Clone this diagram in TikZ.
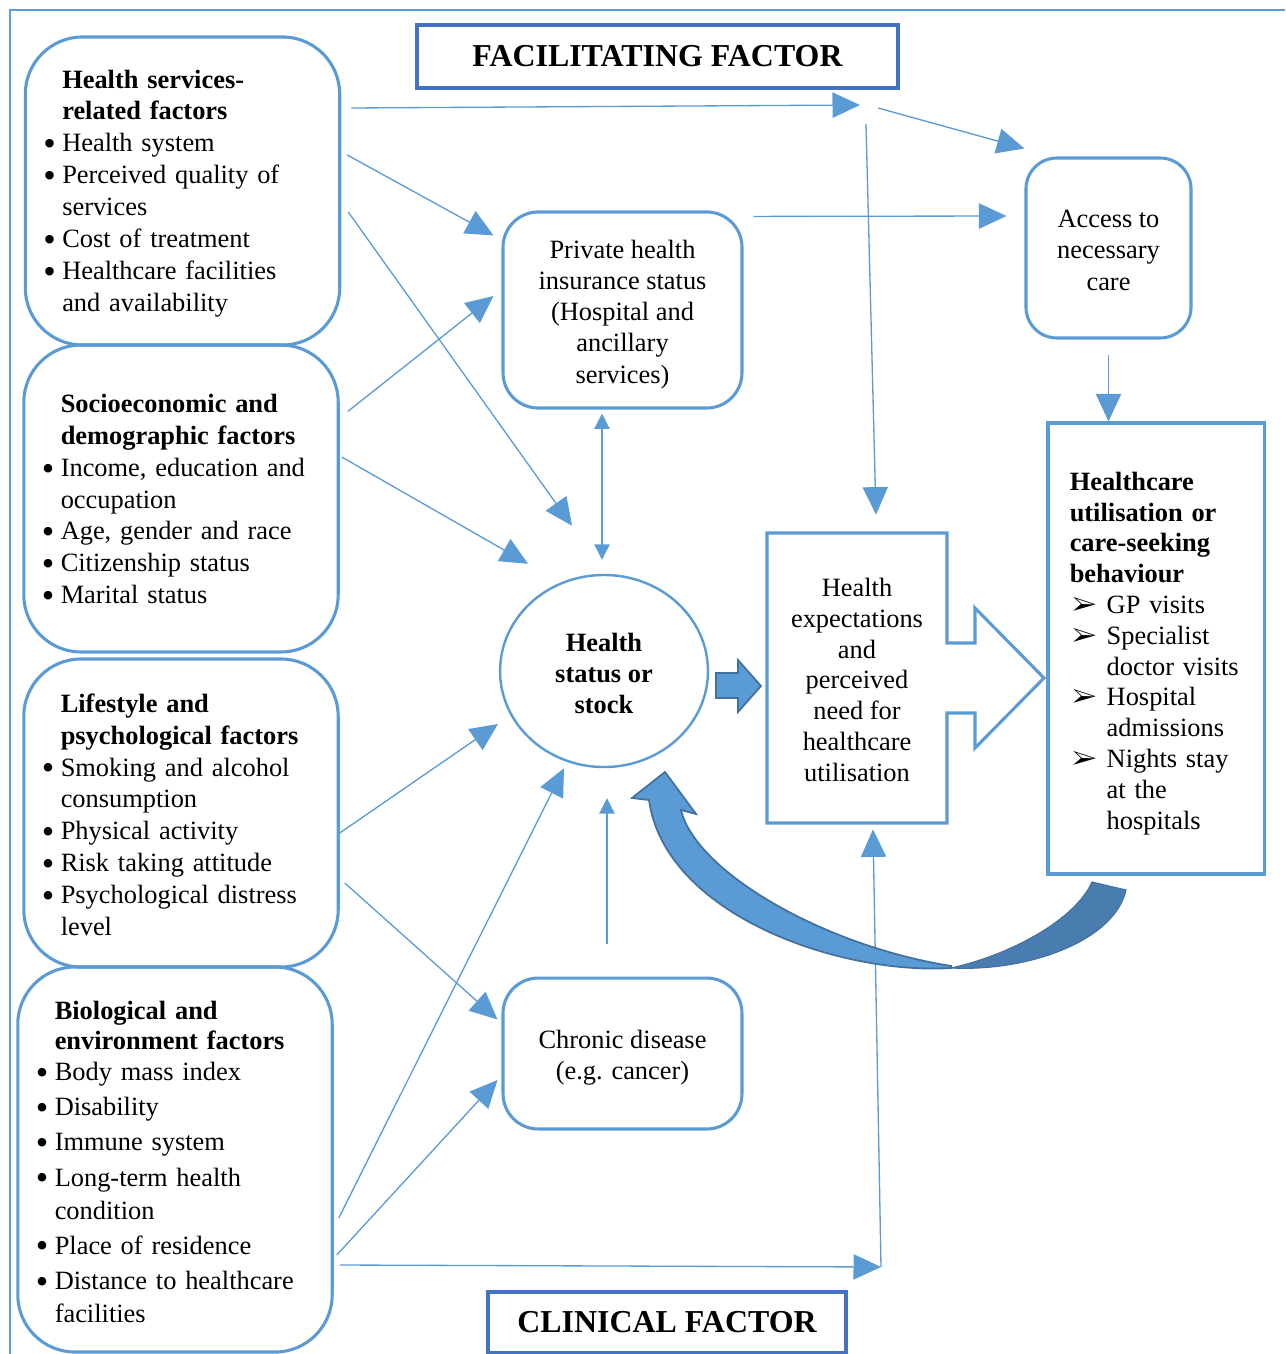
\documentclass[tikz,border=0pt]{standalone}
\usepackage{fontspec}
\setmainfont{Liberation Serif}
\usepackage{graphicx}
\usepackage{pifont}
\usetikzlibrary{arrows.meta,shapes.geometric,calc}

\definecolor{lineblue}{HTML}{5B9BD5}
\definecolor{boxblue}{HTML}{4472C4}
\definecolor{edgeblue}{HTML}{41719C}
\definecolor{bandblue}{HTML}{4A7DAF}

\newcommand{\bul}{\makebox[8.6pt][l]{\raisebox{-1.7pt}{\scalebox{1.35}{\textbullet}}}}
\newcommand{\ind}{\makebox[8.6pt][l]{}}
\newcommand{\harr}{\makebox[16.8pt][l]{\hspace{1.2pt}\ding{226}}}
\newcommand{\hind}{\makebox[16.8pt][l]{}}
\newcommand{\tstrut}[1]{\rule{0pt}{#1}}

\begin{document}
\begin{tikzpicture}[x=0.4545pt, y=-0.4545pt,
	every node/.style={font=\fontsize{12}{14.2}\selectfont},
	leftbox/.style={draw=lineblue, line width=1.4pt, rounded corners=26pt, text width=126.5pt, inner xsep=8.2pt, inner ysep=0pt, minimum height=#1, align=left},
	roundbox/.style={draw=lineblue, line width=1.4pt, rounded corners=16pt, align=center, inner sep=2pt},
	factor/.style={draw=boxblue, line width=1.4pt, font=\fontsize{14.5}{17}\selectfont\bfseries, inner sep=0pt},
	conn/.style={lineblue, line width=0.6pt, -{Triangle[length=12.5pt,width=11.5pt]}},
	conns/.style={lineblue, line width=0.6pt, -{Triangle[length=7pt,width=7pt]}},
	conn2/.style={lineblue, line width=0.6pt, {Triangle[length=7pt,width=7pt]}-{Triangle[length=7pt,width=7pt]}}]
	\useasboundingbox (0,0) rectangle (1285,1354);
	
	% Marco
	\draw[lineblue, line width=1.3pt] (10,1354) -- (10,10) -- (1285,10);
	
	% Factores
	\node[factor, minimum width=218.6pt, minimum height=28.6pt] (fac) at (657.5,56.5) {FACILITATING FACTOR};
	\node[factor, minimum width=162.7pt, minimum height=27.3pt] (clin) at (667,1322) {CLINICAL FACTOR};
	
	% Cajas de la izquierda
	\node[leftbox=140pt, font=\fontsize{12}{14.5}\selectfont] (hs) at (182.5,191) {\tstrut{10.5pt}\ind\textbf{Health services-}\\ \ind\textbf{related factors}\\ \bul Health system\\ \bul Perceived quality of\\ \ind services\\ \bul Cost of treatment\\ \bul Healthcare facilities\\ \ind and availability};
	\node[leftbox=139.5pt, font=\fontsize{12}{14.45}\selectfont] (se) at (181,498.5) {\tstrut{10.5pt}\ind\textbf{Socioeconomic and}\\ \ind\textbf{demographic factors}\\ \bul Income, education and\\ \ind occupation\\ \bul Age, gender and race\\ \bul Citizenship status\\ \bul Marital status};
	\node[leftbox=140pt, font=\fontsize{12}{14.45}\selectfont] (ls) at (181,813) {\tstrut{10pt}\ind\textbf{Lifestyle and}\\ \ind\textbf{psychological factors}\\ \bul Smoking and alcohol\\ \ind consumption\\ \bul Physical activity\\ \bul Risk taking attitude\\ \bul Psychological distress\\ \ind level};
	\node[leftbox=175pt, font=\fontsize{12}{16}\selectfont] (bio) at (175,1159.5) {\tstrut{10.5pt}\ind\textbf{Biological and}\\[-2.4pt] \ind\textbf{environment factors}\\[-1.9pt] \bul Body mass index\\ \bul Disability\\ \bul Immune system\\ \bul Long-term health\\[-1pt] \ind condition\\ \bul Place of residence\\ \bul Distance to healthcare\\[-1pt] \ind facilities};
	
	% Cajas del centro
	\node[roundbox, minimum width=108.6pt, minimum height=89.1pt] (phi) at (622.5,310) {\tstrut{12.2pt}Private health\\insurance status\\(Hospital and\\ancillary\\services)};
	\node[roundbox, minimum width=108.6pt, minimum height=68.6pt] (chr) at (622.5,1053.5) {\tstrut{11.8pt}Chronic disease\\(e.g. cancer)};
	\node[draw=lineblue, line width=1.1pt, ellipse, minimum width=94.5pt, minimum height=87.3pt, inner sep=0pt, align=center, font=\fontsize{12}{14.2}\selectfont\bfseries] (hst) at (604,671) {\tstrut{10.5pt}Health\\status or\\stock};
	\node[minimum width=81.8pt, minimum height=131.8pt, align=center, font=\fontsize{12}{14}\selectfont] (hexp) at (857,678) {\tstrut{10pt}Health\\expectations\\and\\perceived\\need for\\healthcare\\utilisation};
	\draw[lineblue, line width=1.4pt] (767,533) -- (947,533) -- (947,643) -- (975,643) -- (975,608) -- (1044,678) -- (975,748) -- (975,713) -- (947,713) -- (947,823) -- (767,823) -- cycle;
	
	% Cajas de la derecha
	\node[roundbox, rounded corners=14pt, minimum width=75pt, minimum height=81.8pt] (acc) at (1108.5,248) {\tstrut{10pt}Access to\\necessary\\care};
	\node[draw=lineblue, line width=1.4pt, text width=78.4pt, inner xsep=9.9pt, minimum height=205pt, align=left, font=\fontsize{12}{14}\selectfont] (hcu) at (1156,648.5) {\tstrut{12.8pt}\textbf{Healthcare}\\ \textbf{utilisation or}\\ \textbf{care-seeking}\\ \textbf{behaviour}\\ \harr GP visits\\ \harr Specialist\\ \hind doctor visits\\ \harr Hospital\\ \hind admissions\\ \harr Nights stay\\ \hind at the\\ \hind hospitals};
	
	% Flechas
	\coordinate (jn) at (868,108);
	\coordinate (jc) at (881,1267);
	\draw[conn] ($(hs.east |- jn)+(10,0)$) -- ($(jn)+(-8,-3)$);
	\draw[conn] ($(jn)+(10,0)$) -- ($(acc.north west)+(0,-8)$);
	\draw[conn] ($(jn)+(-2,16)$) -- ($(hexp.north)+(19,-18)$);
	\draw[conn] ($(hs.east)+(6,-36)$) -- ($(phi.north west)+(-8,25)$);
	\draw[conn] ($(phi.north east)+(10,6)$) -- ($(acc.west)+(-18,-32)$);
	\draw[conn] ($(hs.east)+(7,21)$) -- ($(hst.north)+(-32,-48)$);
	\draw[conn] ($(se.north east)+(8,68)$) -- ($(phi.west)+(-8,-14)$);
	\draw[conn] ($(se.east)+(2,-41.5)$) -- ($(hst.north)+(-76,-10)$);
	\draw[conn2] ($(phi.south)+(-20.5,4)$) -- ($(hst.north)+(-2,-14)$);
	\draw[conn] ($(acc.south)+(0,15)$) -- (acc.south |- hcu.north);
	\draw[conn] ($(ls.east)+(0,20)$) -- ($(hst.center)+(-106,53)$);
	\draw[conn] ($(ls.east)+(5,70)$) -- ($(chr.north west)+(-4,43)$);
	\draw[conn] ($(bio.east)+(5,58.5)$) -- ($(hst.south)+(-40,0)$);
	\draw[conn] ($(bio.east)+(3,95.5)$) -- ($(chr.west)+(-4,26.5)$);
	\draw[conn] ($(bio.east)+(6,105.5)$) -- (jc);
	\draw[conn] (jc) -- ($(hexp.south)+(16,6)$);
	\draw[conns] ($(chr.north)+(-15.5,-33)$) -- ($(hst.south)+(3,30)$);
	
	% Flecha gruesa
	\filldraw[fill=lineblue, draw=edgeblue, line width=0.8pt] (716,673) -- (738,673) -- (738,660) -- (761,686) -- (738,712) -- (738,698) -- (716,698) -- cycle;
	
	% Flecha curva
	\filldraw[fill=bandblue, draw=edgeblue, line width=0.5pt] (1092,882) -- (1126,890) .. controls (1115,940) and (1030,972) .. (951,968) .. controls (1010,955) and (1075,920) .. cycle;
	\filldraw[fill=lineblue, draw=edgeblue, line width=0.8pt] (951,968) .. controls (840,975) and (665,915) .. (649,800) -- (632,798) -- (665,772) -- (696,814) -- (681,810) .. controls (695,870) and (820,945) .. (951,966) -- cycle;
\end{tikzpicture}
\end{document}
